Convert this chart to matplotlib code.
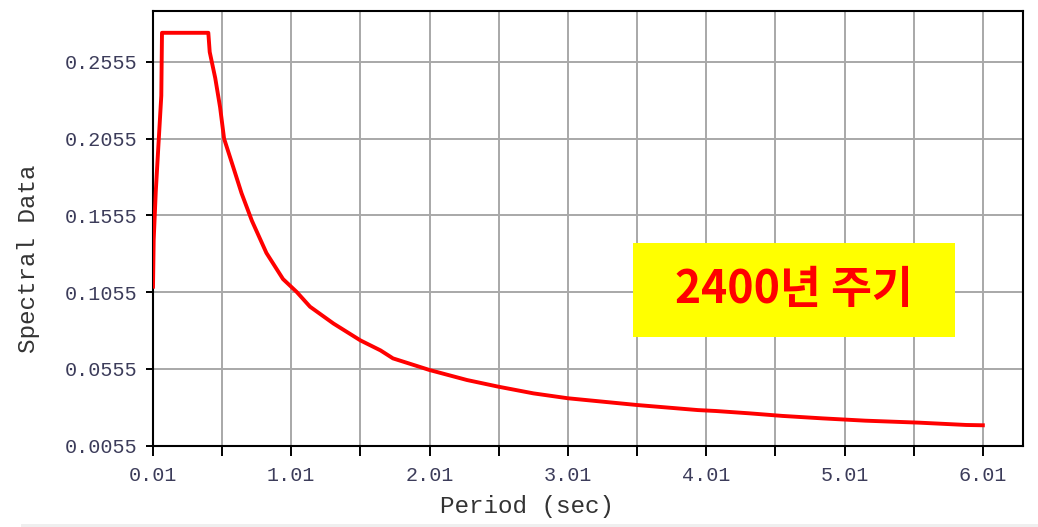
import matplotlib
matplotlib.use('Agg')
import matplotlib.pyplot as plt
from matplotlib.patches import Rectangle

# spectrum (period in sec, spectral acceleration)
period = [0.01, 0.015, 0.03, 0.05, 0.07, 0.075, 0.41,
          0.42, 0.46, 0.495, 0.524, 0.59, 0.65, 0.725, 0.83, 0.95,
          1.05, 1.145, 1.315, 1.51, 1.655, 1.745, 2.01, 2.28, 2.51,
          2.76, 3.01, 3.26, 3.51, 3.95, 4.08, 4.32, 4.56, 4.85,
          5.16, 5.55, 5.89, 6.01]
spectral = [0.109, 0.1395, 0.171, 0.2025, 0.2335, 0.2745, 0.2745,
            0.262, 0.245, 0.226, 0.2055, 0.187, 0.170, 0.152, 0.131, 0.114,
            0.1055, 0.096, 0.085, 0.074, 0.0675, 0.0623, 0.0547, 0.0482, 0.0438,
            0.0395, 0.0363, 0.0341, 0.0319, 0.0286, 0.028, 0.0265, 0.0248, 0.0232,
            0.0217, 0.0204, 0.0189, 0.0187]

xticks = [0.01, 1.01, 2.01, 3.01, 4.01, 5.01, 6.01]
xminor = [0.51, 1.51, 2.51, 3.51, 4.51, 5.51]
yticks = [0.0055, 0.0555, 0.1055, 0.1555, 0.2055, 0.2555]

mono = 'Liberation Mono'
tick_col = '#3c3c5a'

fig = plt.figure(figsize=(10.38, 5.27), dpi=100)
ax = fig.add_axes([0.1474, 0.1546, 0.8381, 0.8245])

ax.plot(period, spectral, color='#ff0000', lw=2.8, zorder=3)

ax.set_xlim(0.01, 6.30)
ax.set_ylim(0.0055, 0.2887)
ax.set_xticks(xticks)
ax.set_xticklabels(['%.2f' % v for v in xticks])
ax.set_xticks(xminor, minor=True)
ax.set_yticks(yticks)
ax.set_yticklabels(['%.4f' % v for v in yticks])

ax.grid(True, which='both', color='#a8a8a8', lw=1.4)
ax.set_axisbelow(True)
for s in ax.spines.values():
    s.set_color('black')
    s.set_linewidth(1.5)

ax.tick_params(axis='x', which='both', direction='out', length=7, width=1.4,
               pad=8, labelsize=14.5, labelcolor=tick_col)
ax.tick_params(axis='y', direction='out', length=5, width=1.4,
               pad=6, labelsize=14.5, labelcolor=tick_col)
for lab in ax.get_xticklabels() + ax.get_yticklabels():
    lab.set_family(mono)

ax.set_xlabel('Period (sec)', family=mono, fontsize=17.5, color='#333333')
ax.set_ylabel('Spectral Data', family=mono, fontsize=17.5, color='#333333')
ax.xaxis.set_label_coords(0.43, -0.115)
ax.yaxis.set_label_coords(-0.130, 0.431)

# yellow label box
fig.patches.append(Rectangle((633 / 1038, 1 - 337 / 527), 322 / 1038, 94 / 527,
                             transform=fig.transFigure, facecolor='#ffff00',
                             edgecolor='none', zorder=5))
fig.text(794 / 1038, 1 - 290 / 527, '2400년 주기', color='#ff0000', fontsize=32,
         fontweight='bold', family=['Noto Sans CJK KR', 'DejaVu Sans'],
         ha='center', va='center', zorder=6)

# faint grey strip along the bottom edge
fig.patches.append(Rectangle((0.02, 0), 0.98, 3 / 527, transform=fig.transFigure,
                             facecolor='#efefef', edgecolor='none'))

fig.savefig('out.png', dpi=100)
